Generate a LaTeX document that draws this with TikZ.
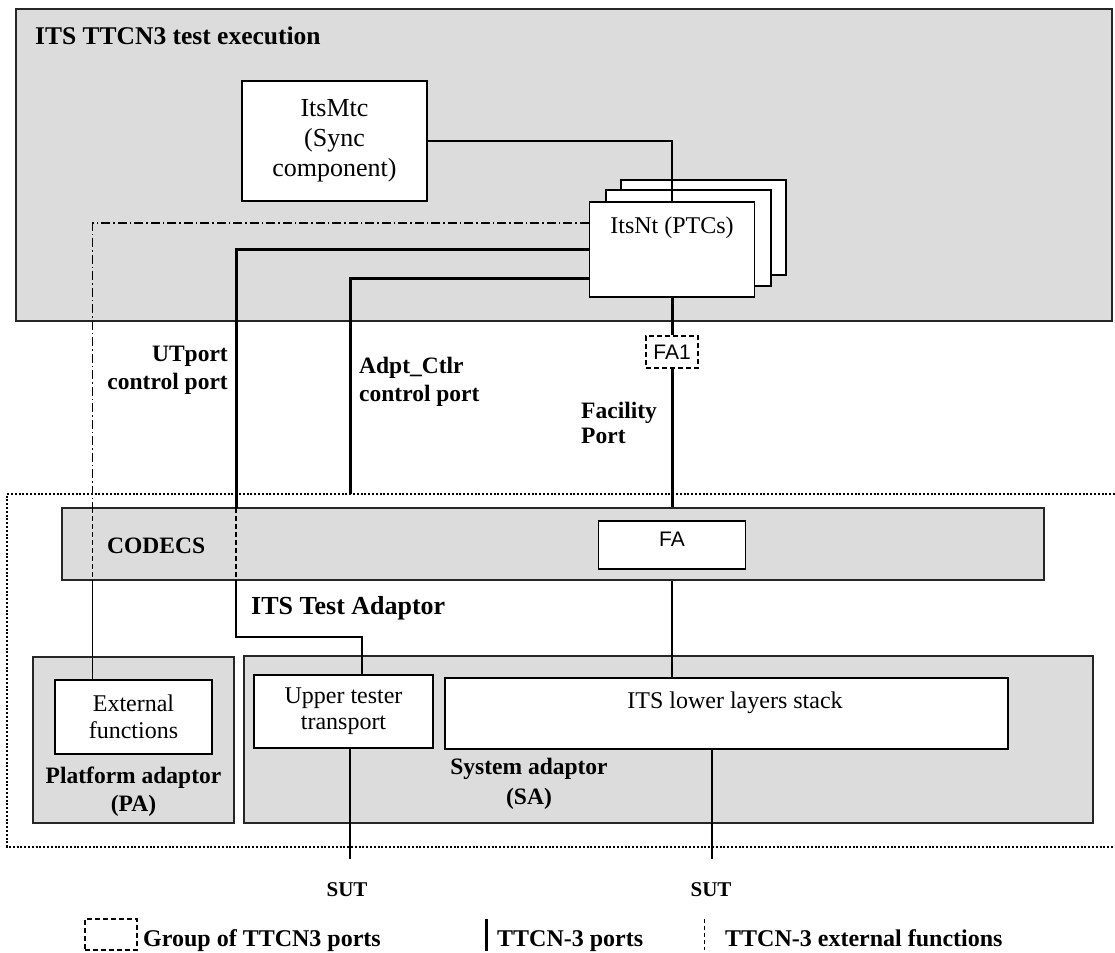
\documentclass[tikz,border=0pt]{standalone}
\usepackage{fontspec}
\setmainfont{Liberation Serif}
\newfontfamily\sansf{Liberation Sans}
\definecolor{boxgrey}{HTML}{DCDCDC}
\begin{document}
\begin{tikzpicture}[x=1pt,y=-1pt,
  greybox/.style={draw=black!85, line width=1.5pt, fill=boxgrey, inner sep=0pt},
  whitebox/.style={draw=black, line width=1.5pt, fill=white, inner sep=0pt, align=center,
    font=\fontsize{24}{27}\selectfont},
  thickline/.style={line width=3pt},
  thinline/.style={line width=1.5pt},
  dashdot/.style={line width=1.5pt, dash pattern=on 9pt off 3pt on 1.5pt off 3pt},
  dashline/.style={line width=1.5pt, dash pattern=on 5pt off 3pt},
  dotframe/.style={line width=2.6pt, dash pattern=on 2pt off 1.8pt},
  lbl/.style={font=\fontsize{23.5}{28}\selectfont\bfseries, inner sep=0pt},
  sanslbl/.style={font=\fontsize{21}{24}\selectfont\sansf}
]
\useasboundingbox (0,0) rectangle (1115,952);

% test execution area
\node[greybox, line width=2pt, minimum width=1096pt, minimum height=312pt] (exec) at (564,165) {};
\node[lbl, font=\fontsize{25.5}{30}\selectfont\bfseries, anchor=base west] (title) at (35,45) {ITS TTCN3 test execution};

\node[whitebox, font=\fontsize{26}{30}\selectfont, minimum width=185pt, minimum height=120pt] (mtc) at (334.5,141) {ItsMtc\\(Sync\\component)};

\node[whitebox, minimum width=165pt, minimum height=95pt] (nt3) at (703.5,227.5) {};
\node[whitebox, minimum width=165pt, minimum height=96pt] (nt2) at (688.5,238) {};
\node[whitebox, anchor=north, minimum width=165pt, minimum height=95pt,
  inner ysep=15pt, text height=17pt, text depth=48pt] (nt) at (672,201) {ItsNt (PTCs)};

\node[draw, dashline, fill=white, sanslbl, minimum width=52pt, minimum height=32pt, inner sep=0pt] (fa1) at (672,352) {FA1};

% labels of the ports
\node[lbl, align=right, anchor=east] (utlbl) at (228,370) {UTport\\control port};
\node[lbl, align=left, anchor=west] (adlbl) at (359,382) {Adpt\_Ctlr\\control port};
\node[lbl, font=\fontsize{23.5}{25}\selectfont\bfseries, align=left, anchor=west] (facl) at (581,423) {Facility\\Port};

% test adaptor area
\draw[dotframe] (1115,494) -- (7,494) -- (7,847) -- (1115,847);
\node[greybox, minimum width=982pt, minimum height=72pt] (codecs) at (553,544) {};
\node[lbl, anchor=base west] (codecsl) at (107,553) {CODECS};
\node[whitebox, font=\fontsize{21}{24}\selectfont\sansf, anchor=north, minimum width=147pt, minimum height=48pt,
  inner ysep=10.5pt, text height=15pt, text depth=12pt] (fa) at (672,520) {FA};
\node[lbl, font=\fontsize{26}{30}\selectfont\bfseries, anchor=base west] (tal) at (251,614) {ITS Test Adaptor};

\node[greybox, minimum width=201pt, minimum height=166pt] (pa) at (133.5,740) {};
\node[whitebox, minimum width=157pt, minimum height=74pt] (ext) at (133.5,717) {External\\functions};
\node[lbl, align=center] (pal) at (133.5,792) {Platform adaptor\\(PA)};

\node[greybox, minimum width=849pt, minimum height=167pt] (sa) at (668.5,739.5) {};
\node[whitebox, font=\fontsize{24}{26}\selectfont, minimum width=179pt, minimum height=73pt] (upt) at (343.5,711.5) {Upper tester\\transport};
\node[whitebox, anchor=north, minimum width=563pt, minimum height=71pt,
  inner ysep=14pt, text height=17pt, text depth=26pt] (low) at (726.5,677) {\hspace*{17pt}ITS lower layers stack};
\node[lbl, font=\fontsize{23.5}{30}\selectfont\bfseries, align=center] (sal) at (529,784) {System adaptor\\(SA)};

\node[lbl, font=\fontsize{21}{24}\selectfont\bfseries] (sut1) at (347,890) {SUT};
\node[lbl, font=\fontsize{21}{24}\selectfont\bfseries] (sut2) at (711,890) {SUT};

% coordinates for connector bends
\coordinate (ef1) at (92.5,223);
\coordinate (ef2) at (92.5,508);
\coordinate (ef3) at (92.5,580);
\coordinate (ut1) at (236,249);
\coordinate (ut2) at (236,508);
\coordinate (ut3) at (236,580);
\coordinate (ut4) at (236,637);
\coordinate (ut5) at (362,637);
\coordinate (ad1) at (350,278);
\coordinate (ad2) at (350,494);
\coordinate (s1) at (350,859);
\coordinate (s2) at (712,859);

% connectors
\draw[line width=2pt] (mtc.east) -| (nt.north);
\draw[dashdot] (nt.west |- ef1) -- (ef1) -- (ef2);
\draw[dashline] (ef2) -- (ef3);
\draw[thinline] (ef3) -- (ef3 |- ext.north);
\draw[thickline] (nt.west |- ut1) -- (ut1) -- (ut2);
\draw[dashline] (ut2) -- (ut3);
\draw[thinline] (ut3) -- (ut4) -- (ut5) -- (ut5 |- upt.north);
\draw[thickline] (nt.west |- ad1) -- (ad1) -- (ad2);
\draw[thickline] (nt.south) -- (fa1.north);
\draw[thickline] (fa1.south) -- (fa1.south |- codecs.north);
\draw[thinline] (fa.south |- codecs.south) -- (fa.south |- low.north);
\draw[thinline] (s1 |- upt.south) -- (s1);
\draw[thinline] (s2 |- low.south) -- (s2);

% legend
\node[draw, dashline, minimum width=52pt, minimum height=31pt, inner sep=0pt] (lgroup) at (111,934.5) {};
\node[lbl, font=\fontsize{24}{28}\selectfont\bfseries, anchor=base west] (lgroupt) at (143,946) {Group of TTCN3 ports};
\coordinate (lb1) at (486,919);
\coordinate (lb2) at (486,951);
\draw[thickline] (lb1) -- (lb2);
\node[lbl, font=\fontsize{24}{28}\selectfont\bfseries, anchor=base west] (lportt) at (497,946) {TTCN-3 ports};
\coordinate (le1) at (704,919);
\coordinate (le2) at (704,950);
\draw[line width=1pt, dash pattern=on 4pt off 3pt] (le1) -- (le2);
\node[lbl, font=\fontsize{24}{28}\selectfont\bfseries, anchor=base west] (lextt) at (725,946) {TTCN-3 external functions};
\end{tikzpicture}
\end{document}
